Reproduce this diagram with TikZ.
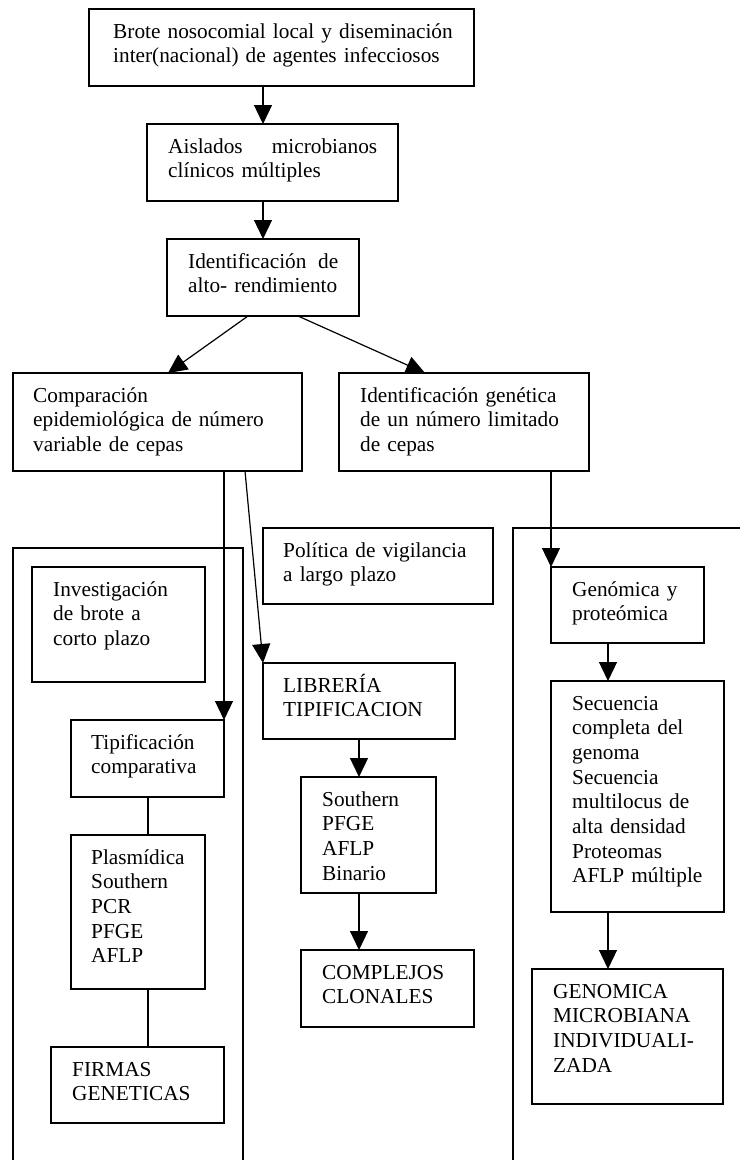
\documentclass[tikz,border=0pt]{standalone}
\usepackage{fontspec}
\setmainfont{Liberation Serif}
\usetikzlibrary{arrows.meta}
\tikzset{
  boxst/.style={draw, line width=1.3pt, anchor=north west, inner sep=0pt, outer sep=0pt},
  txt/.style={anchor=base west, inner sep=0pt, text width=600pt, align=left, font=\fontsize{21.3}{24.7}\selectfont},
  arr/.style={line width=1.2pt, -{Triangle[length=19pt,width=18pt]}},
  ln/.style={line width=1.2pt},
  frame/.style={line width=1.2pt}
}
\newcommand\mybox[7]{%
  \node[boxst, minimum width=#4pt, minimum height=#5pt] (#1) at (#2pt,-#3pt) {};
  \node[txt] (#1t) at ([xshift=#6pt,yshift=-29pt]#1.north west) {#7};
}
\begin{document}
\begin{tikzpicture}[x=1pt,y=1pt]
\fill[white] (0,0) rectangle (740,-1160);
\useasboundingbox (0,0) rectangle (740,-1160);
% open frames
\draw[frame] (13,-1160) -- (13,-548) -- (243,-548) -- (243,-1160);
\draw[frame] (513,-1160) -- (513,-528) -- (740,-528);
% boxes
\mybox{b1}{89}{9}{385}{77}{24}{Brote nosocomial local y diseminación\\inter(nacional) de agentes infecciosos}
\mybox{b2}{147}{124}{251}{77}{21}{\hbox to 209pt{Aislados\hfil microbianos}\\clínicos múltiples}
\mybox{b3}{167}{239}{192}{77}{21}{\hbox to 150pt{Identificación\hfil de}\\alto- rendimiento}
\mybox{b4}{13}{373}{289}{98}{20}{Comparación\\epidemiológica de número\\variable de cepas}
\mybox{b5}{339}{373}{250}{98}{21}{Identificación genética\\de un número limitado\\de cepas}
\mybox{pol}{263}{528}{230}{76}{20}{Política de vigilancia\\a largo plazo}
\mybox{inv}{32}{567}{173}{115}{21}{Investigación\\de brote a\\corto plazo}
\mybox{gen}{551}{567}{153}{76}{21}{Genómica y\\proteómica}
\mybox{lib}{263}{663}{192}{76}{20}{LIBRERÍA\\TIPIFICACION}
\mybox{sec}{551}{681}{173}{231}{21}{Secuencia\\completa del\\genoma\\Secuencia\\multilocus de\\alta densidad\\Proteomas\\AFLP múltiple}
\mybox{tip}{71}{720}{153}{77}{20}{Tipificación\\comparativa}
\mybox{plas}{71}{835}{134}{154}{20}{Plasmídica\\Southern\\PCR\\PFGE\\AFLP}
\mybox{sou}{301}{777}{135}{116}{21}{Southern\\PFGE\\AFLP\\Binario}
\mybox{comp}{301}{950}{173}{77}{21}{COMPLEJOS\\CLONALES}
\mybox{geno}{532}{969}{191}{135}{21}{GENOMICA\\MICROBIANA\\INDIVIDUALI-\\ZADA}
\mybox{firm}{51}{1047}{173}{76}{21}{FIRMAS\\GENETICAS}
% connectors
\draw[arr] ([xshift=174pt]b1.south west) -- ([xshift=116pt]b2.north west);
\draw[arr] ([xshift=116pt]b2.south west) -- ([xshift=96pt]b3.north west);
\draw[arr] ([xshift=81pt]b3.south west) -- ([xshift=155pt]b4.north west);
\draw[arr] ([xshift=131pt]b3.south west) -- ([xshift=86pt]b5.north west);
\draw[arr] ([xshift=211pt]b4.south west) -- (tip.north east);
\draw[arr] ([xshift=232pt]b4.south west) -- (lib.north west);
\draw[arr] ([xshift=212pt]b5.south west) -- (gen.north west);
\draw[arr] ([xshift=57pt]gen.south west) -- ([xshift=57pt]sec.north west);
\draw[arr] ([xshift=57pt]sec.south west) -- ([xshift=76pt]geno.north west);
\draw[arr] ([xshift=96pt]lib.south west) -- ([xshift=58pt]sou.north west);
\draw[arr] ([xshift=58pt]sou.south west) -- ([xshift=58pt]comp.north west);
\draw[ln] ([xshift=77pt]tip.south west) -- ([xshift=77pt]plas.north west);
\draw[ln] ([xshift=77pt]plas.south west) -- ([xshift=97pt]firm.north west);
\end{tikzpicture}
\end{document}
